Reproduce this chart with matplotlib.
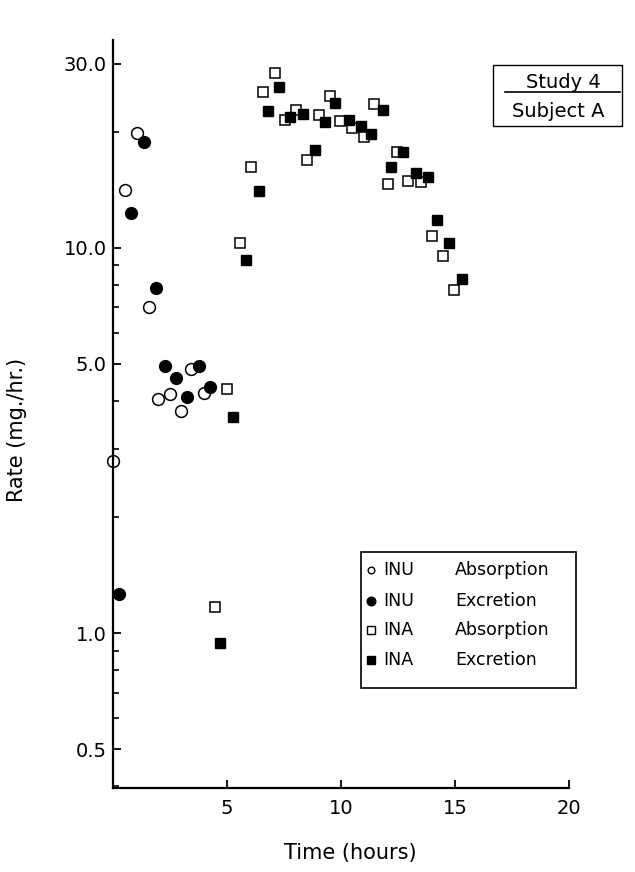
import numpy as np
import matplotlib
matplotlib.use("Agg")
import matplotlib.pyplot as plt
from matplotlib.ticker import FixedLocator, LogLocator, NullFormatter
from matplotlib.patches import Rectangle
from matplotlib.lines import Line2D

# INU (circles) and INA (squares), rate in mg/hr vs time in hours
inu_abs_t = [0.0, 0.56, 1.08, 1.58, 2.01, 2.53, 3.02, 3.46, 3.99]
inu_abs_rate = [2.8, 14.1, 19.8, 7.0, 4.05, 4.18, 3.76, 4.84, 4.2]

inu_exc_t = [0.28, 0.82, 1.37, 1.91, 2.28, 2.79, 3.26, 3.77, 4.29]
inu_exc_rate = [1.26, 12.3, 18.8, 7.85, 4.92, 4.58, 4.1, 4.94, 4.36]

ina_abs_t = [4.47, 5.0, 5.57, 6.08, 6.61, 7.12, 7.57, 8.06, 8.5, 9.05, 9.54,
             9.96, 10.5, 11.03, 11.46, 12.05, 12.45, 12.95, 13.51, 13.98,
             14.46, 14.97]
ina_abs_rate = [1.17, 4.3, 10.3, 16.2, 25.4, 28.4, 21.5, 22.8, 16.9, 22.1, 24.7,
                21.3, 20.4, 19.4, 23.6, 14.6, 17.7, 14.9, 14.8, 10.7,
                9.5, 7.75]

ina_exc_t = [4.72, 5.29, 5.86, 6.41, 6.81, 7.28, 7.78, 8.35, 8.86, 9.33, 9.74,
             10.35, 10.89, 11.32, 11.83, 12.22, 12.73, 13.29, 13.83, 14.2,
             14.74, 15.32]
ina_exc_rate = [0.944, 3.63, 9.3, 14.0, 22.6, 26.1, 21.8, 22.3, 17.9, 21.2, 23.8,
                21.5, 20.7, 19.7, 22.8, 16.2, 17.7, 15.6, 15.3, 11.8,
                10.3, 8.3]

y_ticks = [0.5, 1.0, 5.0, 10.0, 30.0]
y_ticklabels = ["0.5", "1.0", "5.0", "10.0", "30.0"]
x_ticks = [5, 10, 15, 20]

fig = plt.figure(figsize=(6.35, 8.72), dpi=100)
ax = fig.add_axes([0.1772, 0.0963, 0.7189, 0.8578])

open_kw = dict(mfc="white", mec="black", mew=1.1, ls="none")
fill_kw = dict(mfc="black", mec="black", mew=1.0, ls="none")

ax.plot(inu_abs_t, inu_abs_rate, marker="o", ms=8.5, clip_on=False, **open_kw)
ax.plot(inu_exc_t, inu_exc_rate, marker="o", ms=8.5, clip_on=False, **fill_kw)
ax.plot(ina_abs_t, ina_abs_rate, marker="s", ms=7.8, clip_on=False, **open_kw)
ax.plot(ina_exc_t, ina_exc_rate, marker="s", ms=7.8, clip_on=False, **fill_kw)

ax.set_yscale("log")
ax.set_ylim(0.396, 34.6)
ax.set_xlim(0, 20)

ax.yaxis.set_major_locator(FixedLocator(y_ticks))
ax.set_yticklabels(y_ticklabels)
ax.yaxis.set_minor_locator(LogLocator(base=10, subs=np.arange(2, 10)))
ax.yaxis.set_minor_formatter(NullFormatter())
ax.set_xticks(x_ticks)
ax.set_xticklabels([str(t) for t in x_ticks])

for side in ["top", "right"]:
    ax.spines[side].set_visible(False)
for side in ["left", "bottom"]:
    ax.spines[side].set_linewidth(1.6)

ax.tick_params(axis="both", which="major", direction="in", length=6, width=1.3,
               labelsize=14)
ax.tick_params(axis="y", which="minor", direction="in", length=4.5, width=1.2)
ax.tick_params(axis="y", which="major", pad=4)
ax.tick_params(axis="x", which="major", pad=8)

ax.set_ylabel("Rate (mg./hr.)", fontsize=15)
ax.yaxis.set_label_coords(-0.187, 0.4786)
ax.set_xlabel("Time (hours)", fontsize=15, va="top")
ax.xaxis.set_label_coords(0.52, -0.0735)

# hand-built legend box
leg_rows = [
    ("INU", "Absorption", "o", 4.8, "white"),
    ("INU", "Excretion", "o", 6.2, "black"),
    ("INA", "Absorption", "s", 5.2, "white"),
    ("INA", "Excretion", "s", 5.8, "black"),
]
row_y = [0.2914, 0.2500, 0.2112, 0.1711]
for (drug, kind, mk, size, fc), yy in zip(leg_rows, row_y):
    ax.add_line(Line2D([0.566], [yy], marker=mk, ms=size, mfc=fc, mec="black",
                       mew=1.0, ls="none", transform=ax.transAxes, clip_on=False))
    ax.text(0.593, yy, drug, transform=ax.transAxes, fontsize=12.5,
            va="center", ha="left")
    ax.text(0.750, yy, kind, transform=ax.transAxes, fontsize=12.5,
            va="center", ha="left")
ax.add_patch(Rectangle((0.544, 0.1337), 1.015 - 0.544, 0.3155 - 0.1337,
                       transform=ax.transAxes, fill=False, ec="black", lw=1.2,
                       clip_on=False))

# study / subject box
fig.add_artist(Rectangle((0.7764, 0.8558), 0.9795 - 0.7764, 0.9255 - 0.8558,
                         transform=fig.transFigure, fill=False, ec="black", lw=1.0))
fig.add_artist(Line2D([0.795, 0.976], [0.8942, 0.8942], transform=fig.transFigure,
                      color="black", lw=1.2))
fig.text(0.8866, 0.9052, "Study 4", fontsize=14, ha="center", va="center")
fig.text(0.8787, 0.8719, "Subject A", fontsize=14, ha="center", va="center")

fig.savefig("out.png", dpi=100)
